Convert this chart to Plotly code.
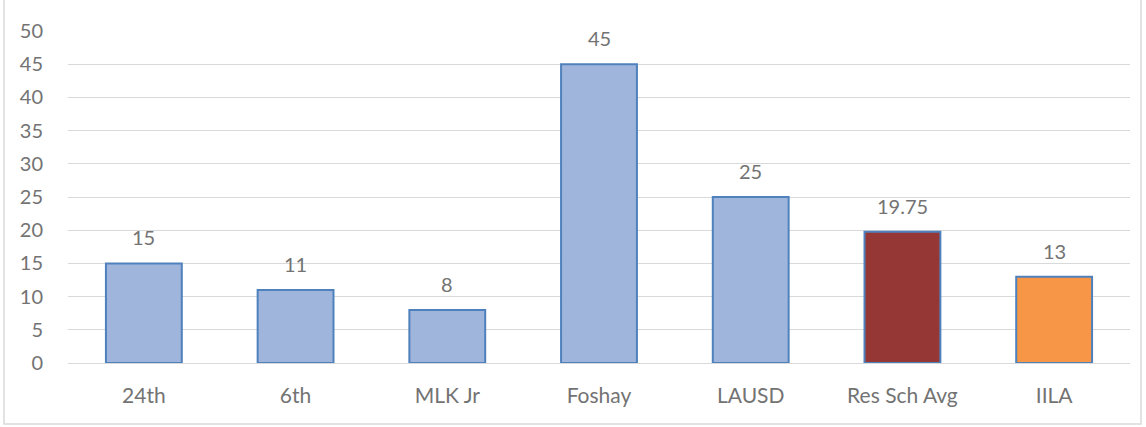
import plotly.graph_objects as go

categories = ["24th", "6th", "MLK Jr", "Foshay", "LAUSD", "Res Sch Avg", "IILA"]
values = [15, 11, 8, 45, 25, 19.75, 13]
colors = ["#a0b5db", "#a0b5db", "#a0b5db", "#a0b5db", "#a0b5db", "#953735", "#f79646"]
y_ticks = [0, 5, 10, 15, 20, 25, 30, 35, 40, 45, 50]

W, H = 1146, 427
L, R, T, B = 68, 16, 31, 64
pw, ph = W - L - R, H - T - B
FONT = "Lato, Open Sans, sans-serif"
TXT = "#737373"

fig = go.Figure()
fig.add_trace(go.Bar(
    x=categories, y=values,
    marker=dict(color=colors, line=dict(color="#4f81bd", width=2)),
    width=0.5,
))

for c, v in zip(categories, values):
    fig.add_annotation(x=c, y=v, text=f"{v:g}", showarrow=False,
                       yanchor="bottom", yshift=12,
                       font=dict(family=FONT, size=20, color=TXT))

# outer chart border
fig.add_shape(type="rect", xref="paper", yref="paper",
              x0=(4 - L) / pw, x1=(1141 - L) / pw,
              y0=(H - B - 424) / ph, y1=(H - B + 3) / ph,
              line=dict(color="#d9d9d9", width=1.5), fillcolor="rgba(0,0,0,0)", layer="below")

fig.update_layout(
    width=W, height=H,
    margin=dict(l=L, r=R, t=T, b=B, autoexpand=False),
    paper_bgcolor="white", plot_bgcolor="white",
    showlegend=False,
    bargap=0.5,
    font=dict(family=FONT, size=20, color=TXT),
)
fig.update_yaxes(range=[0, 50], tickvals=y_ticks, showgrid=True, gridcolor="#d9d9d9",
                 gridwidth=1, zeroline=False, showline=False, ticks="",
                 ticklabelstandoff=24, automargin=False)
fig.update_xaxes(showgrid=False, showline=True, linecolor="#d9d9d9", linewidth=1,
                 ticks="", ticklabelstandoff=14, automargin=False,
                 tickfont=dict(size=21))

fig.write_html("out.html", config={"displayModeBar": False},
               post_script="document.body.style.margin='0';")
